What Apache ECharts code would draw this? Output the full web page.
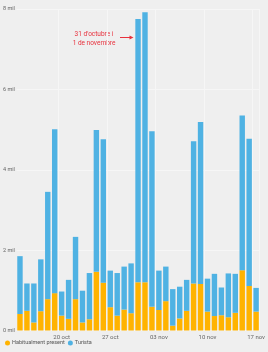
<!DOCTYPE html>
<html>
<head>
<meta charset="utf-8">
<script src="https://cdn.jsdelivr.net/npm/echarts@6/dist/echarts.min.js"></script>
<style>
html,body{margin:0;padding:0;background:#efefef;}
#c{width:268px;height:352px;}
</style>
</head>
<body>
<div id="c"></div>
<script>
var categories = ["14 oct","15 oct","16 oct","17 oct","18 oct","19 oct","20 oct","21 oct","22 oct","23 oct","24 oct","25 oct","26 oct","27 oct","28 oct","29 oct","30 oct","31 oct","01 nov","02 nov","03 nov","04 nov","05 nov","06 nov","07 nov","08 nov","09 nov","10 nov","11 nov","12 nov","13 nov","14 nov","15 nov","16 nov","17 nov"];
// totals (mil)
var totals = [1.85,1.17,1.17,1.77,3.45,5.01,0.97,1.26,2.33,0.99,1.43,4.99,4.76,1.49,1.43,1.59,1.67,7.75,7.92,4.96,1.49,1.59,1.03,1.09,1.26,4.71,5.19,1.29,1.41,1.07,1.42,1.41,5.35,4.77,1.06];
var habitual = [0.41,0.49,0.20,0.48,0.78,0.93,0.37,0.29,0.78,0.20,0.28,1.46,1.19,0.58,0.37,0.52,0.43,1.20,1.20,0.59,0.51,0.73,0.12,0.30,0.49,1.17,1.16,0.47,0.36,0.38,0.33,0.44,1.50,1.11,0.47];
var turista = totals.map(function(t,i){return +(t - habitual[i]).toFixed(2);});
var seriesNames = ["Habitualment present","Turista"];
var yTicks = [0,2,4,6,8];
var annotation = ["31 d'octubre i","1 de novembre"];

var chart = echarts.init(document.getElementById('c'), null, {renderer:'canvas'});
var font = 'Roboto, "Noto Sans", sans-serif';
chart.setOption({
  backgroundColor:'#efefef',
  animation:false,
  textStyle:{fontFamily:font},
  grid:{left:15.5,right:7.5,top:9,bottom:21.5},
  legend:{
    left:0,bottom:1,itemWidth:5,itemHeight:5,itemGap:3,icon:'circle',
    textStyle:{fontSize:5.5,color:'#555',padding:[0,0,0,-3]},
    data:seriesNames
  },
  xAxis:{
    type:'category',data:categories,
    axisLine:{show:false},axisTick:{show:false},
    axisLabel:{fontSize:6,color:'#666',margin:4,
      interval:function(i){return (i-6)%7===0;}},
    splitLine:{show:true,lineStyle:{color:'#f6f6f6',width:1},
      interval:function(i){return (i-6)%7===0;}}
  },
  yAxis:{
    type:'value',min:yTicks[0],max:yTicks[yTicks.length-1],interval:2,
    axisLine:{show:false},axisTick:{show:false},
    axisLabel:{fontSize:5.5,color:'#666',align:'left',margin:13.5,
      formatter:function(v){return v+' mil';}},
    splitLine:{lineStyle:{color:'#f6f6f6',width:1}}
  },
  series:[
    {name:seriesNames[0],type:'bar',stack:'a',data:habitual,barWidth:'78%',
      itemStyle:{color:'#ffb300'}},
    {name:seriesNames[1],type:'bar',stack:'a',data:turista,barWidth:'78%',
      itemStyle:{color:'#4fb2e3'}}
  ],
  graphic:[
    {type:'text',x:94,y:34.5,style:{text:annotation[0],fontSize:6.5,fill:'#e8303c',fontFamily:font,align:'center',verticalAlign:'middle'}},
    {type:'text',x:94,y:43.5,style:{text:annotation[1],fontSize:6.5,fill:'#e8303c',fontFamily:font,align:'center',verticalAlign:'middle'}},
    {type:'line',shape:{x1:120,y1:37.5,x2:130,y2:37.5},style:{stroke:'#e8303c',lineWidth:1}},
    {type:'polygon',shape:{points:[[133.5,37.5],[129.5,35.5],[129.5,39.5]]},style:{fill:'#e8303c'}}
  ]
});
</script>
</body>
</html>
